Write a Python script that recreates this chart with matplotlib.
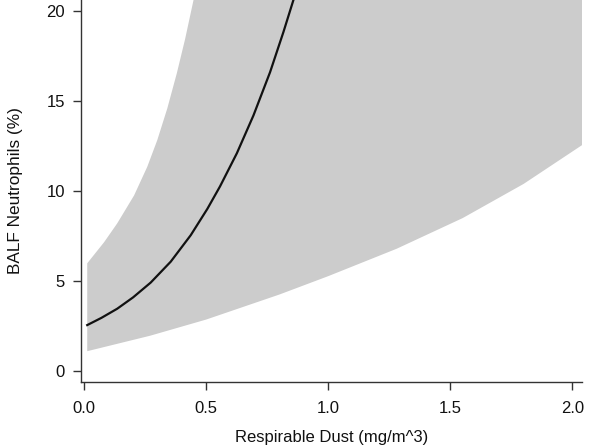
import matplotlib
matplotlib.use("Agg")
import matplotlib.pyplot as plt
import numpy as np

plt.rcParams['font.family'] = ['Liberation Sans', 'DejaVu Sans']

# fitted line
dust_fit = [0.012, 0.07, 0.135, 0.2, 0.272, 0.354, 0.436, 0.504, 0.556, 0.625, 0.693, 0.761, 0.816, 0.857]
neut_fit = [2.54, 2.94, 3.45, 4.08, 4.90, 6.06, 7.53, 8.99, 10.24, 12.08, 14.18, 16.58, 18.82, 20.6]

# confidence band, upper edge (runs off the top of the plot)
dust_hi = [0.012, 0.081, 0.135, 0.204, 0.258, 0.299, 0.340, 0.379, 0.413, 0.447,
           0.5, 0.6, 0.8, 1.2, 2.04]
neut_hi = [5.97, 7.14, 8.19, 9.74, 11.33, 12.81, 14.57, 16.52, 18.42, 20.56,
           24.3, 32.0, 55.0, 120.0, 600.0]

# confidence band, lower edge
dust_lo = [0.012, 0.27, 0.5, 0.8, 1.0, 1.28, 1.55, 1.8, 2.04]
neut_lo = [1.09, 1.95, 2.85, 4.24, 5.26, 6.78, 8.48, 10.38, 12.54]

y_ticks = [0, 5, 10, 15, 20]
x_ticks = [0.0, 0.5, 1.0, 1.5, 2.0]

fig = plt.figure(figsize=(6.0, 4.46), dpi=100)
ax = fig.add_axes([0.135, 0.1435, 0.835, 0.8565])

xs = np.array(sorted(set(dust_hi) | set(dust_lo)))
hi = np.interp(xs, dust_hi, neut_hi)
lo = np.interp(xs, dust_lo, neut_lo)
ax.fill_between(xs, lo, hi, color='#cccccc', linewidth=0)
ax.plot(dust_fit, neut_fit, color='#111111', linewidth=1.6)

ax.set_xlim(-0.0135, 2.039)
ax.set_ylim(-0.62, 20.59)
ax.set_xticks(x_ticks)
ax.set_xticklabels(['0.0', '0.5', '1.0', '1.5', '2.0'])
ax.set_yticks(y_ticks)

for side in ['top', 'right']:
    ax.spines[side].set_visible(False)
for side in ['left', 'bottom']:
    ax.spines[side].set_color('#333333')
    ax.spines[side].set_linewidth(1.0)

ax.tick_params(axis='both', direction='out', length=5.5, width=1.0, color='#333333',
               labelsize=12, labelcolor='#111111')
ax.tick_params(axis='x', pad=8)
ax.tick_params(axis='y', pad=6)

ax.set_xlabel('Respirable Dust (mg/m^3)', fontsize=12, labelpad=10, color='#111111')
ax.set_ylabel('BALF Neutrophils (%)', fontsize=12.4, labelpad=17, color='#111111')

fig.savefig('out.png', dpi=100)
